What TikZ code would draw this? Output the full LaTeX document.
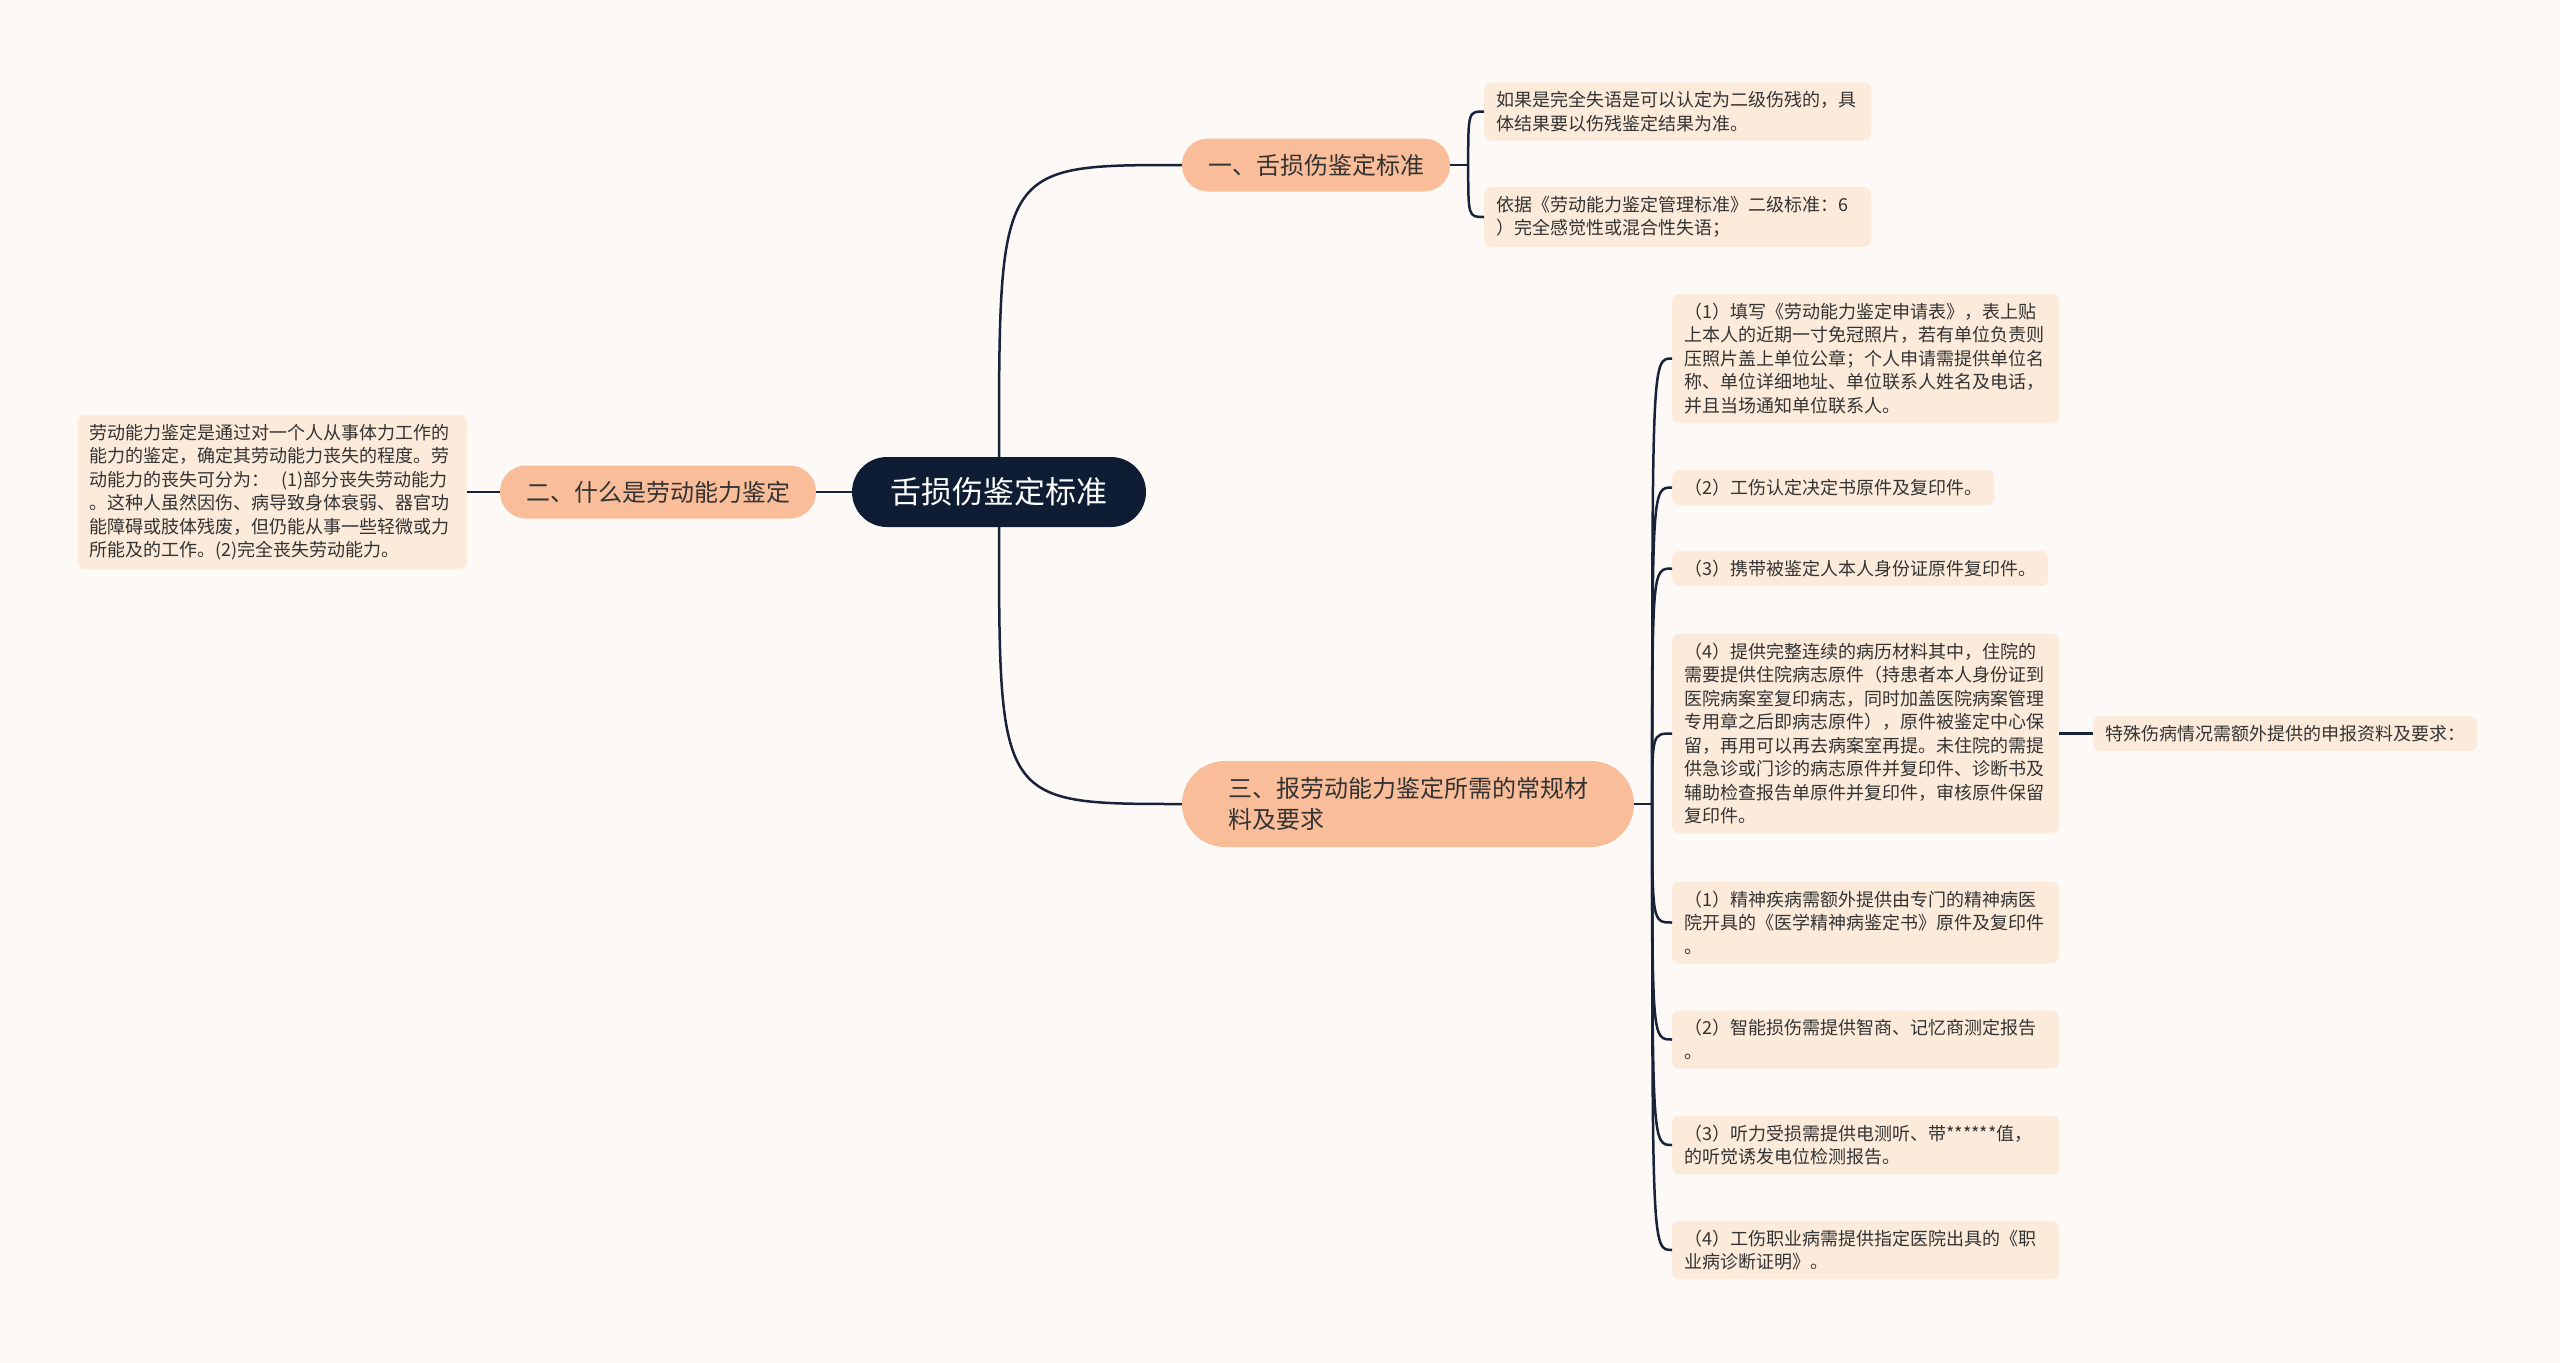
\documentclass[tikz,border=0pt]{standalone}
\usepackage{fontspec}
\usepackage{tikz}
\usetikzlibrary{positioning, calc}

\newfontfamily\cjk{Noto Sans CJK SC}

\definecolor{fondo}{HTML}{FDF9F7}
\definecolor{tema_azul}{HTML}{0E1C34}
\definecolor{rama_naranja}{HTML}{FABD9A}
\definecolor{hoja_crema}{HTML}{FCEBDA}
\definecolor{linea_azul}{HTML}{18223A}
\definecolor{texto_gris}{HTML}{333333}

\begin{document}
\begin{tikzpicture}[
		x=1pt, y=-1pt,
		% --- ESTILOS ---
		tema/.style={
			rectangle,
			fill=tema_azul,
			text=white,
			minimum width=294pt,
			minimum height=70pt,
			rounded corners=35pt,
			font=\cjk\fontsize{31}{38}\selectfont
		},
		rama/.style={
			rectangle,
			fill=rama_naranja,
			text=texto_gris,
			inner xsep=26pt,
			minimum height=53pt,
			rounded corners=26pt,
			font=\cjk\fontsize{24}{31}\selectfont
		},
		hoja/.style={
			rectangle,
			fill=hoja_crema,
			text=texto_gris,
			inner xsep=12pt,
			inner ysep=9pt,
			rounded corners=7pt,
			align=left,
			font=\cjk\fontsize{18}{23.5}\selectfont
		},
		% hojas de varias lineas: ancho fijo
		hoja_ancha/.style={
			hoja,
			text width=363pt
		},
		enlace/.style={
			draw=linea_azul,
			line width=2.5pt
		}
		]
		
		% --- FONDO ---
		\fill [fondo] (0,0) rectangle (2560,1363);
		\useasboundingbox (0,0) rectangle (2560,1363);
		
		% --- TEMA CENTRAL ---
		\node (tema) [tema] at (999,492) {舌损伤鉴定标准};
		
		% --- RAMAS ---
		\node (norma) [rama] at (1316,165) {一、舌损伤鉴定标准};
		\node (definicion) [rama] at (658,492) {二、什么是劳动能力鉴定};
		\node (requisitos) [rama, minimum width=452pt, minimum height=86pt, rounded corners=43pt, text width=360pt, align=left] at (1408,804) {三、报劳动能力鉴定所需的常规材\\料及要求};
		
		\draw [enlace] (tema.north) .. controls (tema.north |- norma.west) and (tema.north |- norma.west) .. (norma.west);
		\draw [enlace] (tema.south) .. controls (tema.south |- requisitos.west) and (tema.south |- requisitos.west) .. (requisitos.west);
		\draw [enlace] (tema.west) -- (definicion.east);
		
		% --- RAMA 1: HOJAS ---
		\node (afasia) [hoja_ancha, anchor=west] at (1484,111.5) {如果是完全失语是可以认定为二级伤残的，具\\体结果要以伤残鉴定结果为准。};
		\node (base) [hoja_ancha, anchor=west] at (1484,217) {依据《劳动能力鉴定管理标准》二级标准：6\\）完全感觉性或混合性失语；};
		
		\coordinate (norma_s) at ($(norma.east) + (18,0)$);
		\draw [enlace] (norma.east) -- (norma_s);
		\foreach \h in {afasia, base}
			\draw [enlace] (norma_s) .. controls (norma_s |- \h.west) .. (\h.west);
		
		% --- RAMA 2: HOJA ---
		\node (defin_texto) [hoja_ancha, text width=365pt, anchor=east] at (467,492) {劳动能力鉴定是通过对一个人从事体力工作的\\能力的鉴定，确定其劳动能力丧失的程度。劳\\动能力的丧失可分为：\ \ (1)部分丧失劳动能力\\。这种人虽然因伤、病导致身体衰弱、器官功\\能障碍或肢体残废，但仍能从事一些轻微或力\\所能及的工作。(2)完全丧失劳动能力。};
		\draw [enlace] (definicion.west) -- (defin_texto.east);
		
		% --- RAMA 3: HOJAS ---
		\node (req1) [hoja_ancha, anchor=west] at (1672,358.5) {（1）填写《劳动能力鉴定申请表》，表上贴\\上本人的近期一寸免冠照片，若有单位负责则\\压照片盖上单位公章；个人申请需提供单位名\\称、单位详细地址、单位联系人姓名及电话，\\并且当场通知单位联系人。};
		\node (req2) [hoja, anchor=west] at (1672,487.5) {（2）工伤认定决定书原件及复印件。};
		\node (req3) [hoja, anchor=west] at (1672,568.5) {（3）携带被鉴定人本人身份证原件复印件。};
		\node (req4) [hoja_ancha, anchor=west] at (1672,733.5) {（4）提供完整连续的病历材料其中，住院的\\需要提供住院病志原件（持患者本人身份证到\\医院病案室复印病志，同时加盖医院病案管理\\专用章之后即病志原件），原件被鉴定中心保\\留，再用可以再去病案室再提。未住院的需提\\供急诊或门诊的病志原件并复印件、诊断书及\\辅助检查报告单原件并复印件，审核原件保留\\复印件。};
		\node (esp1) [hoja_ancha, anchor=west] at (1672,922.5) {（1）精神疾病需额外提供由专门的精神病医\\院开具的《医学精神病鉴定书》原件及复印件\\。};
		\node (esp2) [hoja_ancha, anchor=west] at (1672,1039.5) {（2）智能损伤需提供智商、记忆商测定报告\\。};
		\node (esp3) [hoja_ancha, anchor=west] at (1672,1145) {（3）听力受损需提供电测听、带******值，\\的听觉诱发电位检测报告。};
		\node (esp4) [hoja_ancha, anchor=west] at (1672,1250) {（4）工伤职业病需提供指定医院出具的《职\\业病诊断证明》。};
		
		\coordinate (requisitos_s) at ($(requisitos.east) + (18,0)$);
		\draw [enlace] (requisitos.east) -- (requisitos_s);
		\foreach \h in {req1, req2, req3, req4, esp1, esp2, esp3, esp4}
			\draw [enlace] (requisitos_s) .. controls (requisitos_s |- \h.west) .. (\h.west);
		
		% --- CASOS ESPECIALES ---
		\node (especial) [hoja, anchor=west] at (2093,733.5) {特殊伤病情况需额外提供的申报资料及要求：};
		\draw [enlace] (req4.east) -- (especial.west);
		
	\end{tikzpicture}
\end{document}
